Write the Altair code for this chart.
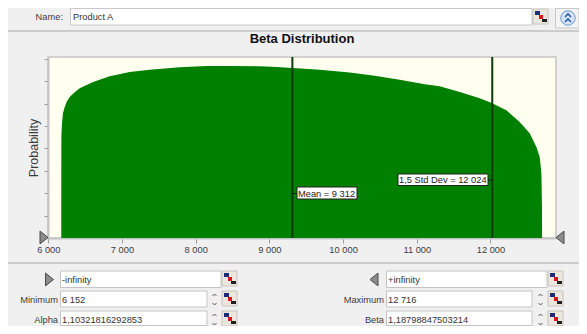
import altair as alt
import pandas as pd

curve_x = [6176, 6177, 6178, 6186, 6199, 6223, 6250, 6290, 6358, 6426, 6607, 6833, 7105, 7376, 7783,
           8150, 8503, 8869, 9100, 9317, 9683, 10090, 10429, 10768, 11108, 11311, 11583, 11854,
           12017, 12216, 12396, 12532, 12623, 12668, 12691, 12699, 12700]
curve_y = [0, 81, 92, 102.4, 111.4, 117, 121.6, 125.9, 130.1, 133.7, 139.3, 144.4, 148.2, 150.2, 152.4,
           153.6, 153.6, 153.3, 152.7, 151.8, 150.2, 147.7, 144.8, 141.3, 137.3, 135.5, 130.4, 124.8,
           120.6, 114, 103.6, 93.5, 81.3, 72.3, 57.8, 27.7, 0]
x_ticks = [6000, 7000, 8000, 9000, 10000, 11000, 12000]
y_ticks = [0, 20, 40, 60, 80, 100, 120, 140, 160]
marker_values = [9312, 12024]
marker_labels = ["Mean = 9 312", "1,5 Std Dev = 12 024"]

FONT = "Liberation Sans"
UI = 9.3
OX, OY = 48, 57   # plot origin in page pixels
one = alt.Data(values=[{}])


def rect(x0, y0, x1, y1, fill="white", stroke=None, sw=1):
    kw = {"fill": fill}
    if stroke:
        kw.update(stroke=stroke, strokeWidth=sw)
    return alt.Chart(one).mark_rect(**kw).encode(
        x=alt.value(x0 - OX), x2=alt.value(x1 - OX),
        y=alt.value(y0 - OY), y2=alt.value(y1 - OY))


def label(x, y, s, align="left", color="#3c3c3c", size=UI, weight="normal"):
    return alt.Chart(one).mark_text(text=s, align=align, baseline="middle", font=FONT,
                                    fontSize=size, color=color, fontWeight=weight).encode(
        x=alt.value(x - OX), y=alt.value(y - OY))


def glyph(x, y, path, size=64, fill="#8c8c8c", stroke="#4a4a4a", sw=1):
    kw = dict(shape=path, size=size, stroke=stroke, strokeWidth=sw, opacity=1)
    if fill:
        kw.update(filled=True, fill=fill)
    else:
        kw.update(filled=False)
    return alt.Chart(one).mark_point(**kw).encode(x=alt.value(x - OX), y=alt.value(y - OY))


RIGHT = "M -1 -1.6 L 1 0 L -1 1.6 Z"
LEFT = "M 1 -1.6 L -1 0 L 1 1.6 Z"
UP = "M -1 0.5 L 0 -0.5 L 1 0.5"
DOWN = "M -1 -0.5 L 0 0.5 L 1 -0.5"


def icon(x, y):
    return [
        rect(x, y, x + 15, y + 15, fill="#ebe7df", stroke="#c8c4bc"),
        rect(x + 2, y + 2, x + 7, y + 6, fill="#1c2a78"),
        rect(x + 9, y + 10, x + 14, y + 13, fill="#202020"),
        rect(x + 6, y + 6, x + 10, y + 10, fill="#d81818"),
    ]


def spinner(x, y):
    return [glyph(x, y + 3, UP, size=16, fill=None, stroke="#555555"),
            glyph(x, y + 12, DOWN, size=16, fill=None, stroke="#555555")]


df = pd.DataFrame({"x": curve_x, "y": curve_y})
x_scale = alt.Scale(domain=[5996, 12889], nice=False, zero=False)
y_scale = alt.Scale(domain=[0, 161.6], nice=False)
x_axis = alt.Axis(
    title=None, values=x_ticks, grid=False, tickSize=5, tickColor="#9a9a9a",
    domainColor="#c4c4c4", domainWidth=2, labelFont=FONT, labelFontSize=UI,
    labelColor="#3c3c3c", labelPadding=2, labelFlush=False,
    labelExpr="replace(format(datum.value, ','), ',', ' ')")

area = alt.Chart(df).mark_area(color="#008000", interpolate="linear", opacity=1).encode(
    x=alt.X("x:Q", scale=x_scale, axis=x_axis),
    y=alt.Y("y:Q", scale=y_scale, axis=alt.Axis(
        title="Probability", values=y_ticks, labels=False, grid=False, tickSize=4,
        tickColor="#9a9a9a", domainColor="#c4c4c4", domainWidth=2, titleFont=FONT,
        titleFontSize=12.5, titleFontWeight="normal", titleColor="#3c3c3c", titlePadding=3)),
)

mdf = pd.DataFrame({"v": marker_values, "t": marker_labels})
rules = alt.Chart(mdf).mark_rule(color="#0c3a0c", strokeWidth=2).encode(
    x=alt.X("v:Q", scale=x_scale, axis=x_axis))

layers = [area, rules]

# marker label boxes
layers += [
    rect(292, 193, 297, 193.8, fill="#111111"),
    rect(297, 187, 357, 199, stroke="#222222"),
    rect(488, 179.5, 492, 180.3, fill="#111111"),
    rect(398, 174, 488, 185.5, stroke="#222222"),
    label(298, 193.5, marker_labels[0], color="#222222"),
    label(399, 180, marker_labels[1], color="#222222"),
]

# surrounding dialog
layers += [
    label(302, 39, "Beta Distribution", align="center", color="#111111", size=13, weight="bold"),
    rect(8, 30.5, 579, 31.5, fill="#a8a8a8"),
    rect(8, 262.5, 579, 263.5, fill="#a8a8a8"),
    label(63, 17, "Name:", align="right"),
    rect(70.5, 8.5, 532, 25, stroke="#c8c8c8"),
    label(73, 17, "Product A", color="#333333"),
    rect(555.5, 8.5, 579, 28, fill="#f4f4f4", stroke="#c8c8c8"),
    alt.Chart(one).mark_point(filled=True, shape="circle", size=210, fill="#d6e4f6",
                              stroke="#6f97cc", strokeWidth=1, opacity=1).encode(
        x=alt.value(568 - OX), y=alt.value(18 - OY)),
    glyph(568, 15.5, UP, size=36, fill=None, stroke="#2a5ea8", sw=1.6),
    glyph(568, 20.5, UP, size=36, fill=None, stroke="#2a5ea8", sw=1.6),
    glyph(44, 237.5, RIGHT, size=64),
    glyph(560, 237.5, LEFT, size=64),
    glyph(49.5, 279.5, RIGHT, size=64),
    glyph(374, 279.5, LEFT, size=64),
]
for x0, x1 in [(60.5, 221), (386.5, 547)]:
    layers.append(rect(x0, 271, x1, 287.5, stroke="#c4c4c4"))
for x0, x1 in [(60.5, 207), (386.5, 532)]:
    layers.append(rect(x0, 291, x1, 307, stroke="#c4c4c4"))
    layers.append(rect(x0, 311, x1, 325.5, stroke="#c4c4c4"))
layers += [
    label(62, 279.5, "-infinity", color="#333333"),
    label(388, 279.5, "+infinity", color="#333333"),
    label(58, 299.5, "Minimum", align="right"),
    label(58, 319.5, "Alpha", align="right"),
    label(62, 299.5, "6 152", color="#333333"),
    label(62, 319.5, "1,10321816292853", color="#333333"),
    label(384, 299.5, "Maximum", align="right"),
    label(384, 319.5, "Beta", align="right"),
    label(388, 299.5, "12 716", color="#333333"),
    label(388, 319.5, "1,18798847503214", color="#333333"),
]
for sx in (214.5, 540.5):
    layers += spinner(sx, 292) + spinner(sx, 312)
for ix, iy in [(533, 9), (222, 271), (222, 291), (222, 311), (548, 271), (548, 291), (548, 311)]:
    layers += icon(ix, iy)

chart = alt.layer(*layers).resolve_scale(x="shared", y="shared").properties(
    width=508, height=181,
    background="#f0f0f0",
    autosize=alt.AutoSizeParams(type="none"),
    padding={"left": 40, "top": 49, "right": 23, "bottom": 88},
).configure_view(fill="#fffff0", stroke="#c4c4c4", strokeWidth=1.5)

chart.save("out.html", embed_options={"renderer": "svg", "actions": False})
